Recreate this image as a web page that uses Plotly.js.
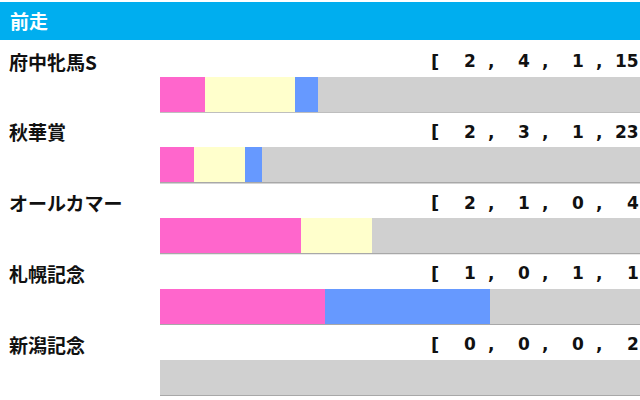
<!DOCTYPE html>
<html><head><meta charset="utf-8">
<script src="https://cdn.plot.ly/plotly-3.0.1.min.js"></script>
<style>html,body{margin:0;padding:0;overflow:hidden;background:#fff;}#chart{width:660px;height:400px;}</style>
</head><body><div id="chart"></div>
<script>
const header = "前走";
const races = ["府中牝馬S", "秋華賞", "オールカマー", "札幌記念", "新潟記念"];
const first = [2, 2, 2, 1, 0];
const second = [4, 3, 1, 0, 0];
const third = [1, 1, 0, 1, 0];
const others = [15, 23, 4, 1, 2];

const W = 660, H = 400, ML = 160, MR = 5;
const PW = W - ML - MR;
const px = p => (p - ML) / PW;
const rows = races.map((_, i) => i);
const totals = rows.map(i => first[i] + second[i] + third[i] + others[i]);
const pct = arr => arr.map((v, i) => totals[i] ? v / totals[i] * 100 : 0);

const colors = ["#FF66CC", "#FFFFCC", "#6699FF", "#D0D0D0"];
const series = [first, second, third, others];
const traces = series.map((s, k) => ({
  type: "bar", orientation: "h", y: rows, x: pct(s), width: 0.494,
  marker: {color: colors[k], line: {width: 0}}, hoverinfo: "skip", showlegend: false
}));

const annotations = [];
annotations.push({xref: "paper", yref: "paper", x: px(8), y: 1 - 21 / H, xanchor: "left", yanchor: "middle",
  text: "<b>" + header + "</b>", showarrow: false,
  font: {family: "Noto Sans CJK JP", size: 19, color: "#ffffff"}});
const numRight = [478, 532, 586, 641];
const commaX = [486, 540, 594];
rows.forEach(i => {
  const yl = i - 0.465;
  annotations.push({xref: "paper", yref: "y", x: px(7), y: yl, xanchor: "left", yanchor: "middle",
    text: "<b>" + races[i] + "</b>", showarrow: false,
    font: {family: "Noto Sans CJK JP", size: 19, color: "#111111"}});
  annotations.push({xref: "paper", yref: "y", x: px(429), y: yl, xanchor: "left", yanchor: "middle",
    text: "<b>[</b>", showarrow: false, font: {family: "DejaVu Sans", size: 18, color: "#111111"}});
  const vals = [first[i], second[i], third[i], others[i]];
  vals.forEach((v, k) => {
    annotations.push({xref: "paper", yref: "y", x: px(numRight[k]), y: yl, xanchor: "right", yanchor: "middle",
      text: "<b>" + v + "</b>", showarrow: false, font: {family: "DejaVu Sans", size: 17, color: "#111111"}});
  });
  commaX.forEach(cx => {
    annotations.push({xref: "paper", yref: "y", x: px(cx), y: yl, xanchor: "left", yanchor: "middle",
      text: "<b>,</b>", showarrow: false, font: {family: "DejaVu Sans", size: 17, color: "#111111"}});
  });
});

const shapes = [{type: "rect", xref: "paper", yref: "paper", x0: px(0), x1: px(W), y0: 1 - 40 / H, y1: 1 - 2 / H,
  fillcolor: "#00AEEF", line: {width: 0}, layer: "below"}];
rows.forEach(i => {
  shapes.push({type: "line", xref: "x", yref: "y", x0: 0, x1: 100, y0: i + 0.25, y1: i + 0.25,
    line: {color: "#A8A8A8", width: 2}, layer: "below"});
});

const layout = {
  width: W, height: H, margin: {l: ML, r: MR, t: 0, b: 0},
  paper_bgcolor: "#ffffff", plot_bgcolor: "rgba(0,0,0,0)",
  barmode: "stack", bargap: 0,
  xaxis: {range: [0, 100], visible: false, fixedrange: true},
  yaxis: {range: [4.322, -1.328], visible: false, fixedrange: true},
  annotations: annotations, shapes: shapes, showlegend: false
};
Plotly.newPlot("chart", traces, layout, {staticPlot: true});
</script></body></html>
